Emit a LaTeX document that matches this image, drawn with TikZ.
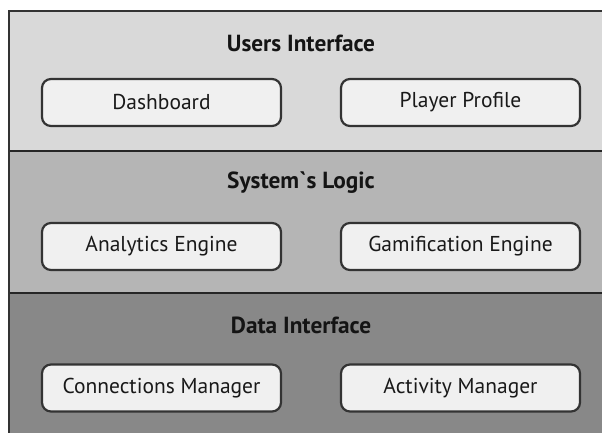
\documentclass[tikz,border=0pt]{standalone}
\usepackage{fontspec}
\setmainfont{PT Sans}[Ligatures=TeXOff]
\definecolor{bandA}{HTML}{D9D9D9}
\definecolor{bandB}{HTML}{B5B5B5}
\definecolor{bandC}{HTML}{888888}
\definecolor{boxfill}{HTML}{F0F0F0}
\definecolor{edge}{HTML}{333333}
\tikzset{
  compbox/.style={draw=edge, line width=2.2pt, fill=boxfill, rounded corners=9pt,
    minimum width=239pt, minimum height=47pt, inner sep=0pt,
    font=\fontsize{21.5}{25}\selectfont, text=black!90},
  bandtitle/.style={font=\fontsize{23.3}{27}\selectfont\bfseries, text=black!92, inner sep=0pt},
  divider/.style={line width=2.8pt, draw=black!85}
}
\begin{document}
\begin{tikzpicture}[x=1pt,y=-1pt]
\useasboundingbox (0,0) rectangle (602,432);
\begin{scope}
\clip (0,0) rectangle (602,432);
\fill[bandA] (9,11) rectangle (620,151);
\fill[bandB] (9,151) rectangle (620,293);
\fill[bandC] (9,293) rectangle (620,450);
\draw[divider] (9,151) -- (620,151);
\draw[divider] (9,293) -- (620,293);
\draw[line width=2.8pt, draw=edge] (620,11) -- (9,11) -- (9,450);
\end{scope}
\node[bandtitle] (t1) at (301,43) {Users Interface};
\node[bandtitle] (t2) at (301,183) {System`s Logic};
\node[bandtitle] (t3) at (301,325) {Data Interface};
\node[compbox] (dash) at (161.5,102.5) {Dashboard};
\node[compbox] (prof) at (460.5,102.5) {Player Profile};
\node[compbox] (anal) at (161.5,246.5) {Analytics Engine};
\node[compbox] (gami) at (460.5,246.5) {Gamification Engine};
\node[compbox] (conn) at (161.5,388) {Connections Manager};
\node[compbox] (act) at (460.5,388) {Activity Manager};
\end{tikzpicture}
\end{document}
